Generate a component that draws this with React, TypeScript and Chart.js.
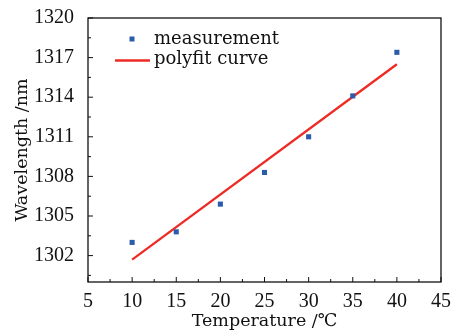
import React, { useEffect, useRef } from "react";
import { Chart, registerables } from "chart.js";

Chart.register(...registerables);

const temperatures = [10, 15, 20, 25, 30, 35, 40];
const wavelengths = [1303.0, 1303.8, 1305.9, 1308.3, 1311.0, 1314.1, 1317.4];
const fitTemperatures = [10, 40];
const fitWavelengths = [1301.7, 1316.5];
const xTickValues = [5, 10, 15, 20, 25, 30, 35, 40, 45];
const yTickValues = [1302, 1305, 1308, 1311, 1314, 1317, 1320];

const FONT = "'DejaVu Serif', serif";
const TICK_FONT = "'Liberation Serif', serif";
const BLUE = "#2b5cab";
const RED = "#ee2a24";

const framePlugin = {
  id: "frame",
  afterDatasetsDraw(chart: any) {
    const { ctx, chartArea } = chart;
    const { left, right, top, bottom } = chartArea;
    const xs = chart.scales.x;
    const ys = chart.scales.y;
    ctx.save();
    ctx.strokeStyle = "#111";
    ctx.lineWidth = 1.3;
    ctx.strokeRect(left, top, right - left, bottom - top);
    ctx.lineWidth = 1;
    ctx.beginPath();
    for (let i = 0; i < xTickValues.length; i++) {
      const v = xTickValues[i];
      const px = xs.getPixelForValue(v);
      ctx.moveTo(px, bottom);
      ctx.lineTo(px, bottom - 5);
      if (i < xTickValues.length - 1) {
        const m = xs.getPixelForValue((v + xTickValues[i + 1]) / 2);
        ctx.moveTo(m, bottom);
        ctx.lineTo(m, bottom - 3);
      }
    }
    const yMin = ys.min;
    for (let i = 0; i < yTickValues.length; i++) {
      const v = yTickValues[i];
      const py = ys.getPixelForValue(v);
      ctx.moveTo(left, py);
      ctx.lineTo(left + 5, py);
      const step = i < yTickValues.length - 1 ? yTickValues[i + 1] - v : 3;
      const mv = v - step / 2;
      if (mv > yMin) {
        const mp = ys.getPixelForValue(mv);
        ctx.moveTo(left, mp);
        ctx.lineTo(left + 3, mp);
      }
    }
    ctx.stroke();

    // legend
    const ds = chart.data.datasets;
    ctx.font = `18px ${FONT}`;
    ctx.textBaseline = "alphabetic";
    ctx.textAlign = "left";
    ctx.fillStyle = BLUE;
    ctx.fillRect(left + 41.5, top + 18.5, 5, 5);
    ctx.fillStyle = "#111";
    ctx.fillText(ds[0].label, left + 66, top + 25.5);
    ctx.strokeStyle = RED;
    ctx.lineWidth = 2.3;
    ctx.beginPath();
    ctx.moveTo(left + 27, top + 42.5);
    ctx.lineTo(left + 62, top + 42.5);
    ctx.stroke();
    ctx.fillText(ds[1].label, left + 66, top + 45.5);
    ctx.restore();
  },
};

export default function App() {
  const ref = useRef<HTMLCanvasElement>(null);
  useEffect(() => {
    document.body.style.margin = "0";
    const chart = new Chart(ref.current!, {
      type: "scatter",
      data: {
        datasets: [
          {
            label: "measurement",
            data: temperatures.map((t, i) => ({ x: t, y: wavelengths[i] })),
            pointStyle: "rect",
            pointRadius: 3.6,
            backgroundColor: BLUE,
            borderColor: BLUE,
            borderWidth: 0,
            order: 1,
          },
          {
            label: "polyfit curve",
            data: fitTemperatures.map((t, i) => ({ x: t, y: fitWavelengths[i] })),
            showLine: true,
            pointRadius: 0,
            borderColor: RED,
            backgroundColor: RED,
            borderWidth: 2.3,
            order: 2,
          },
        ],
      },
      options: {
        animation: false,
        responsive: false,
        maintainAspectRatio: false,
        layout: { padding: { top: 17, right: 9, left: 0, bottom: 0 } },
        plugins: { legend: { display: false }, tooltip: { enabled: false } },
        scales: {
          x: {
            type: "linear",
            min: 5,
            max: 45,
            afterBuildTicks: (s: any) => {
              s.ticks = xTickValues.map((v) => ({ value: v }));
            },
            afterFit: (s: any) => {
              s.height = 51;
            },
            grid: { display: false },
            border: { display: false },
            ticks: {
              font: { family: TICK_FONT, size: 20 },
              color: "#111",
              padding: 0,
              maxRotation: 0,
              callback: (v: any) => String(v),
            },
            title: {
              display: true,
              text: "Temperature /℃",
              font: { family: FONT, size: 17.5 },
              color: "#111",
              padding: { top: 1, bottom: 1 },
            },
          },
          y: {
            type: "linear",
            min: 1300,
            max: 1320,
            afterBuildTicks: (s: any) => {
              s.ticks = yTickValues.map((v) => ({ value: v }));
            },
            afterFit: (s: any) => {
              s.width = 88;
            },
            grid: { display: false },
            border: { display: false },
            ticks: {
              font: { family: TICK_FONT, size: 20 },
              color: "#111",
              padding: 6,
              callback: (v: any) => String(v),
            },
            title: {
              display: true,
              text: "Wavelength /nm",
              font: { family: FONT, size: 17.5 },
              color: "#111",
              padding: { top: 12, bottom: 12 },
            },
          },
        },
      },
      plugins: [framePlugin],
    } as any);
    return () => chart.destroy();
  }, []);
  return (
    <div style={{ position: "fixed", left: 0, top: 0, width: 451, height: 333, background: "#fff" }}>
      <canvas ref={ref} width={451} height={333} style={{ width: 451, height: 333 }} />
    </div>
  );
}
